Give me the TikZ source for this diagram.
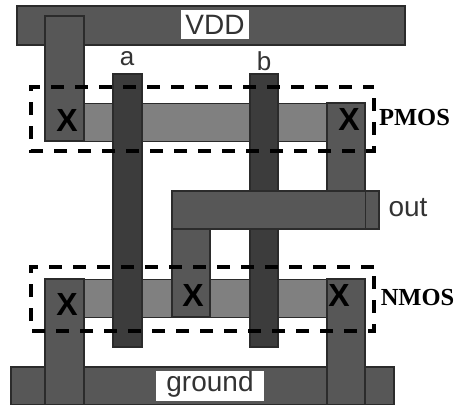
\documentclass[tikz,border=0pt]{standalone}
\usepackage{fontspec}
\setmainfont{Liberation Sans}
\newfontfamily\serifbold[BoldFont={Liberation Serif Bold}]{Liberation Serif}
\definecolor{metal}{HTML}{575757}
\definecolor{poly}{HTML}{3C3C3C}
\definecolor{diff}{HTML}{808080}
\definecolor{edge}{HTML}{2B2B2B}
\tikzset{
  metalbar/.style={fill=metal,draw=edge,line width=1.1pt},
  polybar/.style={fill=poly,draw=edge,line width=1.1pt},
  diffbar/.style={fill=diff,draw=none},
  lab/.style={inner sep=0pt,text=black!80,font=\fontsize{26}{28}\selectfont},
  railtext/.style={inner sep=0pt,text=black!80,font=\fontsize{28}{30}\selectfont},
  contact/.style={inner sep=0pt,text=black,font=\fontsize{32}{34}\selectfont\bfseries},
  group/.style={draw=black,line width=3.6pt,dash pattern=on 13pt off 11pt},
  tag/.style={inner sep=0pt,text=black,font=\fontsize{24.5}{26}\selectfont\serifbold\bfseries}
}
\begin{document}
\begin{tikzpicture}[x=1pt,y=-1pt]
\useasboundingbox (0,0) rectangle (456,405);
% rails
\draw[metalbar] (17,6) rectangle (405,45);
\draw[metalbar] (11,367) rectangle (394,405);
\fill[white] (181,10) rectangle (249,39);
\fill[white] (156,371) rectangle (264,401);
\node[railtext] (vdd) at (215,25) {VDD};
\node[railtext] (gnd) at (210,384) {ground};
% diffusion
\fill[diffbar] (84,103) rectangle (327,141);
\fill[diffbar] (84,279) rectangle (327,317);
\draw[edge,line width=0.6pt] (84,103) -- (327,103) (84,141) -- (327,141);
\draw[edge,line width=0.6pt] (84,279) -- (327,279) (84,317) -- (327,317);
% gates
\draw[polybar] (113,74) rectangle (142,347);
\draw[polybar] (250,74) rectangle (278,347);
% metal columns
\draw[metalbar] (45,16) rectangle (84,141);
\draw[metalbar] (327,103) rectangle (365,191);
\draw[metalbar] (172,229) rectangle (210,317);
\draw[metalbar] (172,191) rectangle (379,229);
\draw[edge,line width=0.9pt] (365,191) -- (365,229);
\draw[metalbar] (45,279) rectangle (84,405);
\draw[metalbar] (327,279) rectangle (365,405);
% contacts
\node[contact] (x1) at (67,120) {X};
\node[contact] (x2) at (349,119) {X};
\node[contact] (x3) at (67,304) {X};
\node[contact] (x4) at (193,295) {X};
\node[contact] (x5) at (339,295) {X};
% labels
\node[lab] (a) at (127,59) {a};
\node[lab] (b) at (264,61) {b};
\node[railtext] (out) at (408,208) {out};
\node[tag] (pmos) at (414.5,118) {PMOS};
\node[tag] (nmos) at (417.5,298) {NMOS};
% groups
\draw[group] (374,98) -- (374,151) -- (31,151) -- (31,87) -- (374,87);
\draw[group] (374,276) -- (374,331) -- (31,331) -- (31,267) -- (374,267);
\end{tikzpicture}
\end{document}
